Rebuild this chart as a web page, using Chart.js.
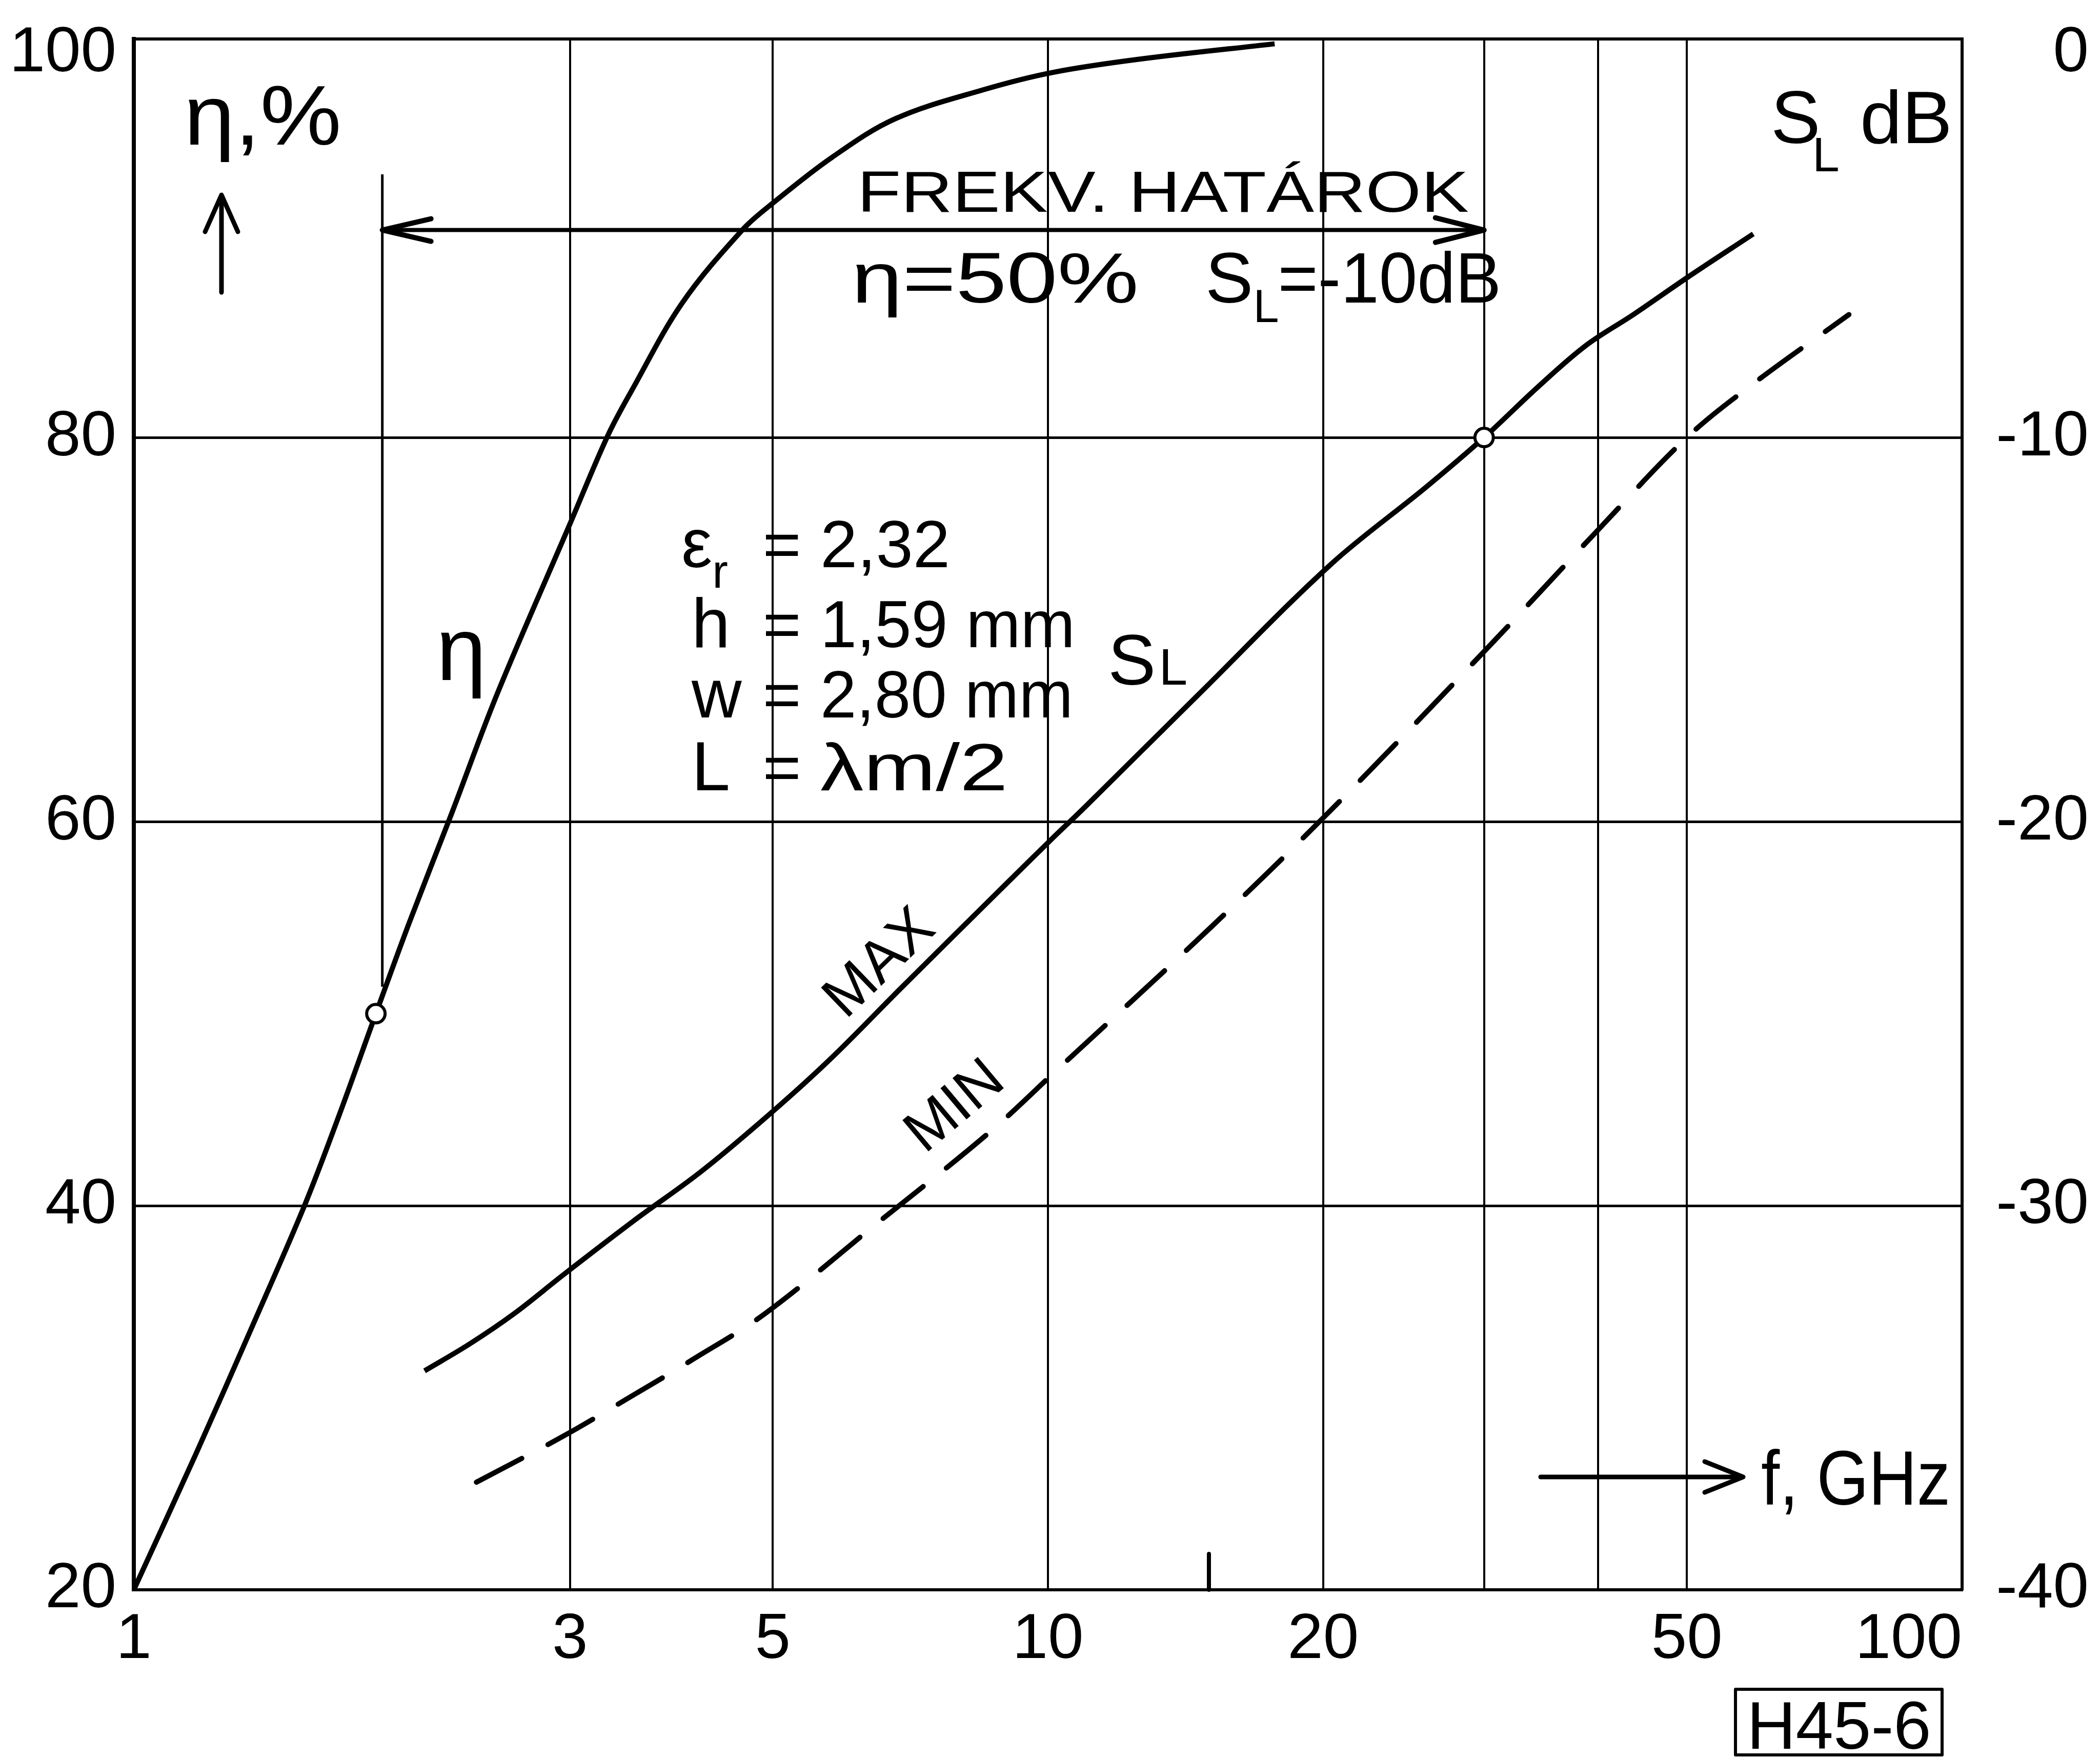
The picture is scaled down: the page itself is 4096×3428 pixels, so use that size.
<!DOCTYPE html>
<html>
<head>
<meta charset="utf-8">
<script src="https://cdn.jsdelivr.net/npm/chart.js@4.4.1/dist/chart.umd.min.js"></script>
<style>
  html, body { margin: 0; padding: 0; background: #fff; }
  #wrap { width: 4096px; height: 3428px; }
</style>
</head>
<body>
<div id="wrap"><canvas id="hatarok" width="4096" height="3428"></canvas></div>
<script>
// frequency axis, GHz (log)
const xTicks = [1, 3, 5, 10, 15, 20, 30, 40, 50, 100];
const xLabels = [1, 3, 5, 10, 20, 50, 100];
const xGrid = [3, 5, 10, 20, 30, 40, 50];

// left axis eta %, right axis S_L dB
const etaTicks = [20, 40, 60, 80, 100];
const etaGrid = [40, 60, 80];
const slTicks = [-40, -30, -20, -10, 0];

// eta curve
const etaFreq = [1, 1.17, 1.35, 1.54, 1.68, 1.84, 2.0, 2.23, 2.5, 3.0, 3.3, 3.51, 3.98, 4.63, 5.0, 5.81, 6.81, 8.49, 10.1, 12.6, 17.7];
const etaPct = [20, 27.1, 33.8, 40.1, 44.8, 50, 54.7, 60.5, 66.7, 75.5, 80.1, 82.5, 87.0, 90.8, 92.2, 94.6, 96.6, 98.1, 99.0, 99.7, 100.5];

// S_L MAX (solid)
const maxFreq = [2.08, 2.33, 2.61, 2.95, 3.52, 4.18, 4.97, 5.77, 6.93, 9.02, 10.05, 11.0, 14.6, 20.4, 25.9, 30, 34.3, 38.8, 43.7, 50.3, 59.1];
const maxDb = [-34.3, -33.6, -32.8, -31.8, -30.4, -29.1, -27.6, -26.2, -24.3, -21.6, -20.5, -19.6, -16.7, -13.3, -11.3, -10.0, -8.7, -7.6, -6.8, -5.8, -4.7];

// S_L MIN (dashed)
const minFreq = [2.37, 2.95, 3.48, 4.09, 4.91, 6.47, 8.62, 10.3, 15.0, 20.4, 30.2, 40, 50, 59.1, 75.2];
const minDb = [-37.2, -36.0, -35.0, -34.0, -32.8, -30.5, -28.1, -26.4, -22.8, -19.7, -15.5, -12.4, -10.0, -8.6, -6.8];

// marked points and the band-limit guides
const markEta = [{ x: 1.84, y: 50 }];
const markSl = [{ x: 30, y: -10 }];
const bandFreq = [1.87, 30];
const bandEta = 90.8;
const guideEta = [93.7, 51.4];

const FONT = "'Liberation Sans', Arial, sans-serif";
const pts = (xs, ys) => xs.map((x, i) => ({ x: x, y: ys[i] }));

function curve(data, axis, extra) {
  return Object.assign({
    data: data, yAxisID: axis, showLine: true, fill: false,
    borderColor: '#000', borderWidth: 10, pointRadius: 0,
    tension: 0.35, order: 2
  }, extra || {});
}

function marker(data, axis) {
  return {
    data: data, yAxisID: axis, showLine: false, order: 0,
    pointRadius: 18, pointBorderWidth: 6,
    pointBackgroundColor: '#fff', pointBorderColor: '#000'
  };
}

function txt(ctx, s, x, y, size, align) {
  ctx.font = size + 'px ' + FONT;
  ctx.textAlign = align || 'left';
  ctx.fillText(s, x, y);
  return ctx.measureText(s).width;
}

// draw text from left edge x, squeezed or stretched to a given width
function txtFit(ctx, s, x, y, size, width) {
  ctx.font = size + 'px ' + FONT;
  ctx.textAlign = 'left';
  const k = width / ctx.measureText(s).width;
  ctx.save();
  ctx.translate(x, y);
  ctx.scale(k, 1);
  ctx.fillText(s, 0, 0);
  ctx.restore();
}

function vHead(ctx, x, y, dx, dy, len, half) {
  // open arrow head, tip at x,y pointing along (dx,dy)
  const px = -dy, py = dx;
  ctx.beginPath();
  ctx.moveTo(x - dx * len + px * half, y - dy * len + py * half);
  ctx.lineTo(x, y);
  ctx.lineTo(x - dx * len - px * half, y - dy * len - py * half);
  ctx.stroke();
}

const annotations = {
  id: 'annotations',
  beforeDraw(chart) {
    const ctx = chart.ctx;
    ctx.save();
    ctx.fillStyle = '#fff';
    ctx.fillRect(0, 0, chart.width, chart.height);
    ctx.restore();
  },
  afterDraw(chart) {
    const ctx = chart.ctx;
    const a = chart.chartArea;
    const xs = chart.scales.x, ys = chart.scales.y;
    ctx.save();
    ctx.strokeStyle = '#000';
    ctx.fillStyle = '#000';
    ctx.lineCap = 'round';
    ctx.lineJoin = 'round';
    ctx.textBaseline = 'alphabetic';

    // top frame
    ctx.lineWidth = 6;
    ctx.beginPath();
    ctx.moveTo(a.left, a.top);
    ctx.lineTo(a.right, a.top);
    ctx.stroke();

    // short mark at 15 GHz
    const x15 = xs.getPixelForValue(15);
    ctx.lineWidth = 8;
    ctx.beginPath();
    ctx.moveTo(x15, a.bottom - 70);
    ctx.lineTo(x15, a.bottom);
    ctx.stroke();

    // band arrow heads
    const by = ys.getPixelForValue(bandEta);
    ctx.lineWidth = 10;
    vHead(ctx, xs.getPixelForValue(bandFreq[0]), by, -1, 0, 95, 22);
    vHead(ctx, xs.getPixelForValue(bandFreq[1]), by, 1, 0, 95, 24);

    // eta,% axis title with up arrow
    txtFit(ctx, 'η,%', 359, 282, 165, 307);
    ctx.lineWidth = 9;
    ctx.beginPath();
    ctx.moveTo(432, 570);
    ctx.lineTo(432, 385);
    ctx.stroke();
    vHead(ctx, 432, 380, 0, -1, 72, 32);

    // S_L dB axis title
    txt(ctx, 'S', 3454, 279, 145);
    txt(ctx, 'L', 3535, 334, 95);
    txtFit(ctx, 'dB', 3628, 279, 145, 180);

    // band text
    txtFit(ctx, 'FREKV. HATÁROK', 1672, 413, 114, 1193);
    txtFit(ctx, 'η=50%', 1661, 590, 140, 560);
    let w = txt(ctx, 'S', 2351, 590, 140);
    txt(ctx, 'L', 2351 + w, 628, 90);
    txtFit(ctx, '=-10dB', 2351 + w + 48, 590, 140, 2928 - (2351 + w + 48));

    // substrate parameters
    const rows = [1106, 1262, 1399, 1541];
    const vals = ['2,32', '1,59 mm', '2,80 mm', 'λm/2'];
    const valW = [253, 497, 493, 366];
    w = txt(ctx, 'ε', 1329, rows[0], 135);
    txt(ctx, 'r', 1329 + w, rows[0] + 40, 92);
    txt(ctx, 'h', 1349, rows[1], 135);
    txt(ctx, 'w', 1349, rows[2], 135);
    txt(ctx, 'L', 1349, rows[3], 135);
    vals.forEach((s, i) => {
      txt(ctx, '=', 1525, rows[i], 128, 'center');
      txtFit(ctx, s, 1600, rows[i], 130, valW[i]);
    });

    // curve labels
    txt(ctx, 'η', 900, 1326, 175, 'center');
    w = txt(ctx, 'S', 2161, 1335, 140);
    txt(ctx, 'L', 2161 + w + 6, 1335, 100);

    ctx.save();
    ctx.translate(1717, 1880);
    ctx.rotate(-44 * Math.PI / 180);
    ctx.textBaseline = 'middle';
    txt(ctx, 'MAX', 0, 0, 115, 'center');
    ctx.restore();

    ctx.save();
    ctx.translate(1864, 2159);
    ctx.rotate(-40 * Math.PI / 180);
    ctx.textBaseline = 'middle';
    txt(ctx, 'MIN', 0, 0, 115, 'center');
    ctx.restore();

    // frequency axis title
    ctx.lineWidth = 9;
    ctx.beginPath();
    ctx.moveTo(3005, 2880);
    ctx.lineTo(3395, 2880);
    ctx.stroke();
    vHead(ctx, 3400, 2880, 1, 0, 75, 30);
    txtFit(ctx, 'f, GHz', 3435, 2934, 150, 369);

    // figure code
    ctx.lineWidth = 6;
    ctx.strokeRect(3385, 3294, 403, 128);
    txt(ctx, 'H45-6', 3587, 3410, 132, 'center');

    ctx.restore();
  }
};

new Chart(document.getElementById('hatarok'), {
  type: 'scatter',
  data: {
    datasets: [
      marker(markEta, 'y'),
      marker(markSl, 'y2'),
      curve(pts(etaFreq, etaPct), 'y'),
      curve(pts(maxFreq, maxDb), 'y2'),
      curve(pts(minFreq, minDb), 'y2', { borderDash: [100, 58], borderCapStyle: 'round' }),
      curve(pts(bandFreq, [bandEta, bandEta]), 'y', { borderWidth: 8, tension: 0 }),
      curve(pts([bandFreq[0], bandFreq[0]], guideEta), 'y', { borderWidth: 5, tension: 0 })
    ]
  },
  options: {
    responsive: false,
    animation: false,
    devicePixelRatio: 1,
    layout: { padding: { top: 76, right: 22, left: 0, bottom: 0 } },
    plugins: {
      legend: { display: false },
      tooltip: { enabled: false }
    },
    scales: {
      x: {
        type: 'logarithmic',
        position: 'bottom',
        min: 1,
        max: 100,
        afterBuildTicks: (s) => { s.ticks = xTicks.map(v => ({ value: v })); },
        afterFit: (s) => { s.height = 328; s.paddingLeft = 0; s.paddingRight = 0; },
        ticks: {
          autoSkip: false,
          maxRotation: 0,
          minRotation: 0,
          padding: 24,
          color: '#000',
          font: { family: FONT, size: 125 },
          // the hand-written 100 sits left of its grid line
          callback: (v) => !xLabels.includes(v) ? '' : (v === 100 ? '100\u2007\u2007\u2007' : String(v))
        },
        grid: {
          drawTicks: false,
          lineWidth: 4,
          color: (c) => (c.tick && xGrid.includes(c.tick.value)) ? '#000' : 'rgba(0,0,0,0)'
        },
        border: { display: true, color: '#000', width: 6 }
      },
      y: {
        type: 'linear',
        position: 'left',
        min: 20,
        max: 100.75,
        afterBuildTicks: (s) => { s.ticks = etaTicks.map(v => ({ value: v })); },
        afterFit: (s) => { s.width = 261; s.paddingTop = 0; s.paddingBottom = 0; },
        ticks: {
          padding: 34,
          color: '#000',
          font: { family: FONT, size: 125 }
        },
        grid: {
          drawTicks: false,
          lineWidth: 5,
          color: (c) => (c.tick && etaGrid.includes(c.tick.value)) ? '#000' : 'rgba(0,0,0,0)'
        },
        border: { display: true, color: '#000', width: 8 }
      },
      y2: {
        type: 'linear',
        position: 'right',
        min: -40,
        max: 0.375,
        afterBuildTicks: (s) => { s.ticks = slTicks.map(v => ({ value: v })); },
        afterFit: (s) => { s.width = 247; s.paddingTop = 0; s.paddingBottom = 0; },
        ticks: {
          crossAlign: 'far',
          color: '#000',
          font: { family: FONT, size: 125 }
        },
        grid: { display: false, drawTicks: false },
        border: { display: true, color: '#000', width: 6 }
      }
    }
  },
  plugins: [annotations]
});
</script>
</body>
</html>
